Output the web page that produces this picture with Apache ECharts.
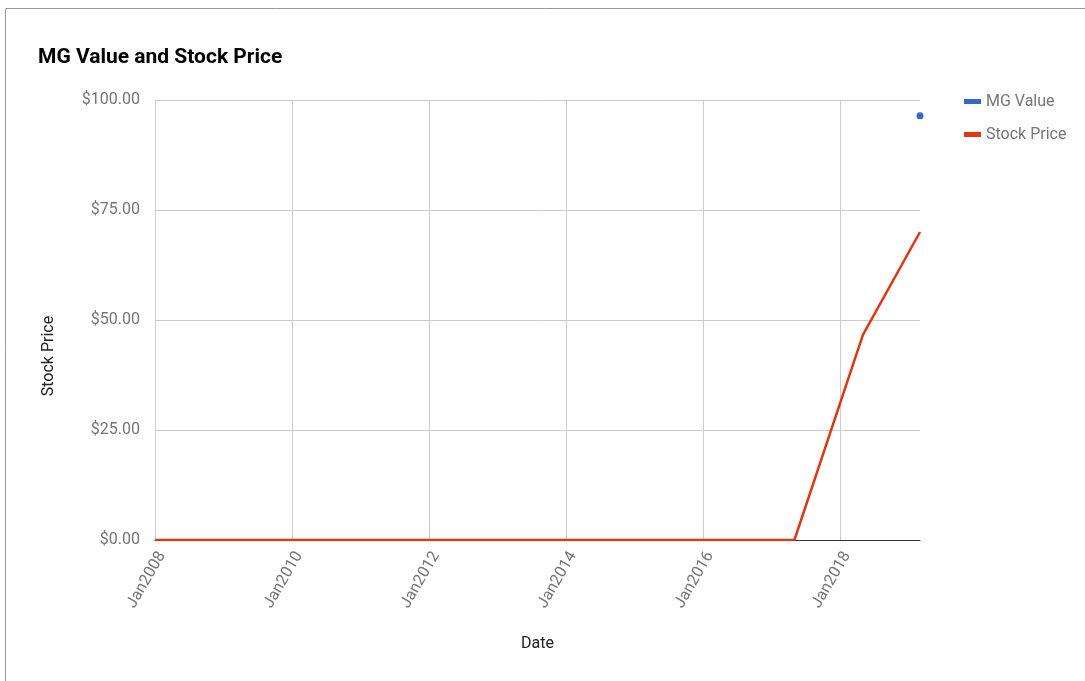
<!DOCTYPE html>
<html>
<head>
<meta charset="utf-8">
<script src="https://cdn.jsdelivr.net/npm/echarts@6/dist/echarts.min.js"></script>
<style>
  html, body { margin: 0; padding: 0; background: #fff; }
  #chart { width: 1085px; height: 681px; }
</style>
</head>
<body>
<div id="chart"></div>
<script>
// report dates (year-month) and values
const dates = ["2008-01", "2009-05", "2010-05", "2011-05", "2012-05", "2013-05", "2014-05", "2015-05", "2016-05", "2017-05", "2018-05", "2019-03"]
const stockPrice = [0, 0, 0, 0, 0, 0, 0, 0, 0, 0, 46.6, 70.0]
const mgValue = [null, null, null, null, null, null, null, null, null, null, null, 96.4]
const yTicks = [0, 25, 50, 75, 100]

// date string -> fractional year, so the axis can tick every 2 years on Jan
const toYear = (d) => {
  const [y, m] = d.split("-").map(Number)
  return y + (m - 1) / 12
}
const xs = dates.map(toYear)
const xMin = xs[0]
const xMax = xs[xs.length - 1]

const labelColor = "#757575"
const font = "Roboto, 'Noto Sans', sans-serif"

const chart = echarts.init(document.getElementById("chart"), null, { renderer: "canvas" })
chart.setOption({
  backgroundColor: "#fff",
  animation: false,
  title: {
    text: "MG Value and Stock Price",
    left: 33,
    top: 42,
    textStyle: { fontFamily: font, fontSize: 21, fontWeight: "bold", color: "#000" }
  },
  legend: {
    orient: "vertical",
    left: 959,
    top: 87,
    icon: "rect",
    itemWidth: 17,
    itemHeight: 5,
    itemGap: 14,
    textStyle: { fontFamily: font, fontSize: 16, color: labelColor, lineHeight: 19 },
    data: ["MG Value", "Stock Price"]
  },
  grid: { left: 155, right: 165, top: 100, bottom: 141 },
  graphic: [
    {
      type: "rect",
      shape: { x: 5.5, y: 8.5, width: 1200, height: 800 },
      style: { fill: "none", stroke: "#9a9a9a", lineWidth: 1 },
      silent: true
    },
    {
      type: "text",
      x: 49,
      y: 356,
      rotation: Math.PI / 2,
      style: {
        text: "Stock Price",
        fontFamily: font,
        fontSize: 16,
        fill: "#222",
        align: "center",
        verticalAlign: "middle"
      }
    }
  ],
  xAxis: {
    type: "value",
    min: xMin,
    max: xMax,
    interval: 2,
    name: "Date",
    nameLocation: "middle",
    nameGap: 96,
    nameTextStyle: { fontFamily: font, fontSize: 16, color: "#222" },
    axisLine: { show: true, onZero: false, lineStyle: { color: "#333", width: 1 } },
    axisTick: { show: false },
    axisLabel: {
      rotate: 60,
      margin: 9,
      verticalAlign: "top",
      showMaxLabel: false,
      fontFamily: font,
      fontSize: 16,
      color: labelColor,
      formatter: (v) => (Number.isInteger(Math.round(v * 1000) / 1000) ? "Jan" + Math.round(v) : "")
    },
    splitLine: { show: true, showMaxLine: false, lineStyle: { color: "#cccccc", width: 1 } }
  },
  yAxis: {
    type: "value",
    min: yTicks[0],
    max: yTicks[yTicks.length - 1],
    interval: 25,
    axisLine: { show: false },
    axisTick: { show: false },
    axisLabel: {
      margin: 15,
      fontFamily: font,
      fontSize: 16,
      color: labelColor,
      formatter: (v) => "$" + v.toFixed(2)
    },
    splitLine: { show: true, lineStyle: { color: "#cccccc", width: 1 } }
  },
  series: [
    {
      name: "MG Value",
      type: "line",
      data: xs.map((x, i) => [x, mgValue[i]]),
      connectNulls: false,
      showSymbol: true,
      symbol: "circle",
      symbolSize: 7,
      itemStyle: { color: "#3366cc" },
      lineStyle: { color: "#3366cc", width: 2.5 },
      z: 3
    },
    {
      name: "Stock Price",
      type: "line",
      data: xs.map((x, i) => [x, stockPrice[i]]),
      showSymbol: false,
      symbol: "none",
      itemStyle: { color: "#dc3912" },
      lineStyle: { color: "#dc3912", width: 2.5 },
      z: 2
    }
  ]
})
</script>
</body>
</html>
